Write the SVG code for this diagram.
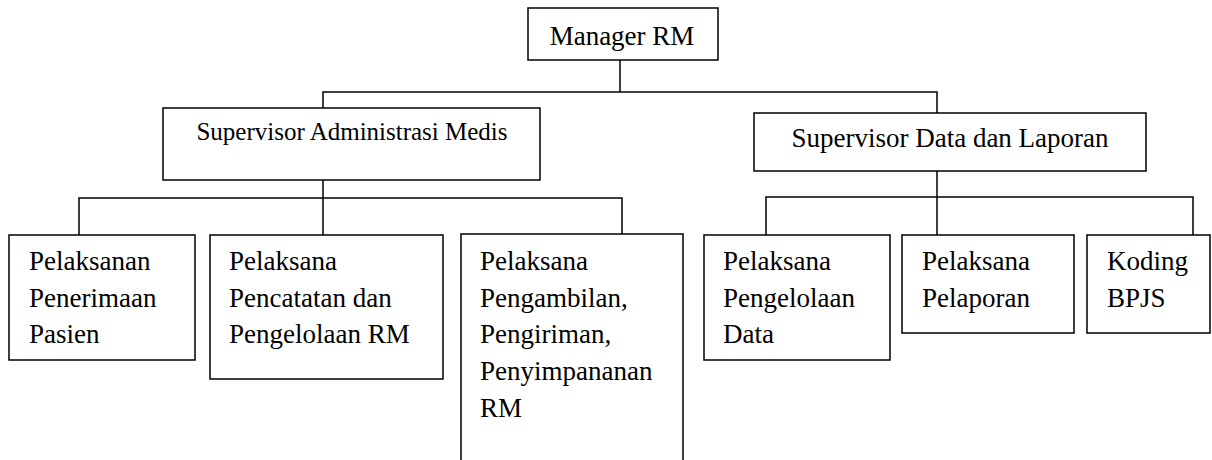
<svg xmlns="http://www.w3.org/2000/svg" width="1212" height="460" viewBox="0 0 1212 460">
<style>
.box{fill:#fff;stroke:#000;stroke-width:1.5}
.ln{fill:none;stroke:#000;stroke-width:1.5}
text{font-family:"Liberation Serif","Times New Roman",serif;font-size:27px;fill:#000}
.sm{font-size:25px}
</style>
<rect width="1212" height="460" fill="#fff"/>
<g id="connectors">
<polyline class="ln" points="620,60 620,92"/>
<polyline class="ln" points="323,108 323,92 937,92 937,113"/>
<polyline class="ln" points="323,180 323,235"/>
<polyline class="ln" points="79,235 79,198 622,198 622,234"/>
<polyline class="ln" points="937,171 937,235"/>
<polyline class="ln" points="766,235 766,197 1193,197 1193,235"/>
</g>
<g id="manager">
<rect class="box" x="528" y="8" width="190" height="52"/>
<text x="622" y="45" text-anchor="middle">Manager RM</text>
</g>
<g id="sup-admin">
<rect class="box" x="163" y="108" width="377" height="72"/>
<text class="sm" x="352" y="140" text-anchor="middle">Supervisor Administrasi Medis</text>
</g>
<g id="sup-data">
<rect class="box" x="754" y="113" width="392" height="58"/>
<text x="950" y="147" text-anchor="middle">Supervisor Data dan Laporan</text>
</g>
<g id="penerimaan">
<rect class="box" x="9" y="235" width="186" height="125"/>
<text x="29" y="270">Pelaksanan</text>
<text x="29" y="307">Penerimaan</text>
<text x="29" y="343">Pasien</text>
</g>
<g id="pencatatan">
<rect class="box" x="210" y="235" width="233" height="144"/>
<text x="229" y="270">Pelaksana</text>
<text x="229" y="307">Pencatatan dan</text>
<text x="229" y="343">Pengelolaan RM</text>
</g>
<g id="pengambilan">
<rect class="box" x="461" y="234" width="222" height="240"/>
<text x="480" y="270">Pelaksana</text>
<text x="480" y="307">Pengambilan,</text>
<text x="480" y="343">Pengiriman,</text>
<text x="480" y="380">Penyimpananan</text>
<text x="480" y="417">RM</text>
</g>
<g id="pengelolaan-data">
<rect class="box" x="704" y="235" width="186" height="125"/>
<text x="723" y="270">Pelaksana</text>
<text x="723" y="307">Pengelolaan</text>
<text x="723" y="343">Data</text>
</g>
<g id="pelaporan">
<rect class="box" x="902" y="235" width="172" height="98"/>
<text x="922" y="270">Pelaksana</text>
<text x="922" y="307">Pelaporan</text>
</g>
<g id="koding">
<rect class="box" x="1087" y="235" width="123" height="98"/>
<text x="1107" y="270">Koding</text>
<text x="1107" y="307">BPJS</text>
</g>
</svg>
